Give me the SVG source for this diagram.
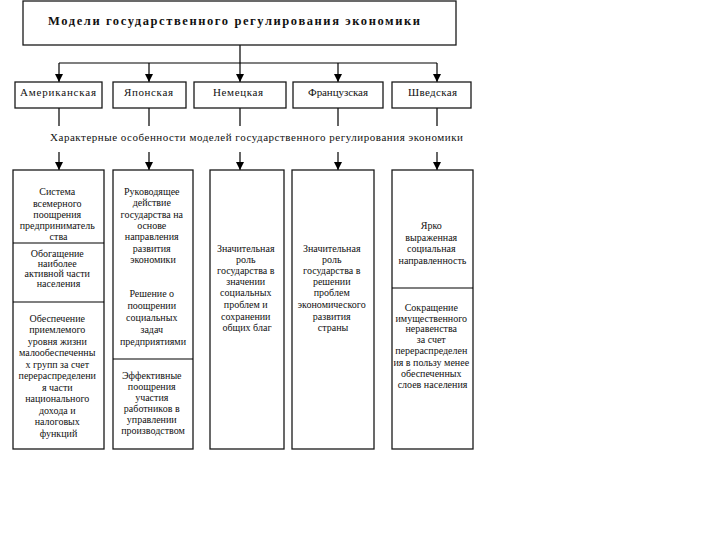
<svg xmlns="http://www.w3.org/2000/svg" width="720" height="540" viewBox="0 0 720 540">
<defs>
<marker id="arr" viewBox="0 0 8 10" refX="8" refY="5" markerWidth="8" markerHeight="10" markerUnits="userSpaceOnUse" orient="auto">
<path d="M0,1 L8,5 L0,9 z" fill="#000"/>
</marker>
<style>
.box{fill:#fff;stroke:#1a1a1a;stroke-width:1.3}
.ln{fill:none;stroke:#000;stroke-width:1.2}
.t{font-family:"Liberation Serif","Times New Roman",serif;font-size:10px;fill:#111;text-anchor:middle}
.c{font-family:"Liberation Serif","Times New Roman",serif;font-size:11px;fill:#111}
.h{font-family:"Liberation Serif","Times New Roman",serif;font-size:12.5px;font-weight:bold;fill:#111}
</style>
</defs>
<rect width="720" height="540" fill="#fff"/>
<g id="connectors">
<path class="ln" d="M240,45 V63 M59,63 H437"/>
<path class="ln" marker-end="url(#arr)" d="M59,63 V82"/>
<path class="ln" marker-end="url(#arr)" d="M149,63 V82"/>
<path class="ln" marker-end="url(#arr)" d="M240,63 V82"/>
<path class="ln" marker-end="url(#arr)" d="M338,63 V82"/>
<path class="ln" marker-end="url(#arr)" d="M437,63 V82"/>
<path class="ln" d="M59,108 V126 M149,108 V126 M240,108 V126 M338,108 V126 M437,108 V126"/>
<path class="ln" marker-end="url(#arr)" d="M59,152 V170"/>
<path class="ln" marker-end="url(#arr)" d="M149,152 V170"/>
<path class="ln" marker-end="url(#arr)" d="M240,152 V170"/>
<path class="ln" marker-end="url(#arr)" d="M338,152 V170"/>
<path class="ln" marker-end="url(#arr)" d="M437,152 V170"/>
</g>
<g id="title">
<rect class="box" x="23" y="1" width="433" height="44"/>
<text class="h" x="48" y="25" textLength="372" lengthAdjust="spacing">Модели государственного регулирования экономики</text>
</g>
<g id="american">
<rect class="box" x="15" y="82" width="87" height="26"/>
<text class="c" x="20" y="96" textLength="76" lengthAdjust="spacing">Американская</text>
</g>
<g id="japanese">
<rect class="box" x="113" y="82" width="73" height="26"/>
<text class="c" x="124" y="96" textLength="49" lengthAdjust="spacing">Японская</text>
</g>
<g id="german">
<rect class="box" x="194" y="82" width="92" height="26"/>
<text class="c" x="213" y="96" textLength="50" lengthAdjust="spacing">Немецкая</text>
</g>
<g id="french">
<rect class="box" x="293" y="82" width="90" height="26"/>
<text class="c" x="308" y="96" textLength="60" lengthAdjust="spacing">Французская</text>
</g>
<g id="swedish">
<rect class="box" x="392" y="82" width="79" height="26"/>
<text class="c" x="408" y="96" textLength="49" lengthAdjust="spacing">Шведская</text>
</g>
<g id="features">
<text class="c" x="50" y="141" textLength="413" lengthAdjust="spacing">Характерные особенности моделей государственного регулирования экономики</text>
</g>
<g id="box-american">
<rect class="box" x="13" y="170" width="91" height="279"/>
<path class="ln" d="M13,243 H104 M13,302 H104"/>
<text class="t">
<tspan x="58.5" y="195">Система</tspan>
<tspan x="58.5" y="207">всемерного</tspan>
<tspan x="58.5" y="218">поощрения</tspan>
<tspan x="58.5" y="229">предприниматель</tspan>
<tspan x="58.5" y="240">ства</tspan>
</text>
<text class="t">
<tspan x="58.5" y="257">Обогащение</tspan>
<tspan x="58.5" y="267">наиболее</tspan>
<tspan x="58.5" y="277">активной части</tspan>
<tspan x="58.5" y="287">населения</tspan>
</text>
<text class="t">
<tspan x="58.5" y="321.5">Обеспечение</tspan>
<tspan x="58.5" y="333">приемлемого</tspan>
<tspan x="58.5" y="344.5">уровня жизни</tspan>
<tspan x="58.5" y="356">малообеспеченны</tspan>
<tspan x="58.5" y="367.5">х групп за счет</tspan>
<tspan x="58.5" y="379">перераспределени</tspan>
<tspan x="58.5" y="390.5">я части</tspan>
<tspan x="58.5" y="402">национального</tspan>
<tspan x="58.5" y="413.5">дохода и</tspan>
<tspan x="58.5" y="425">налоговых</tspan>
<tspan x="58.5" y="436.5">функций</tspan>
</text>
</g>
<g id="box-japanese">
<rect class="box" x="113" y="170" width="80" height="279"/>
<path class="ln" d="M113,359 H193"/>
<text class="t">
<tspan x="153" y="194.5">Руководящее</tspan>
<tspan x="153" y="206">действие</tspan>
<tspan x="153" y="217.5">государства на</tspan>
<tspan x="153" y="229">основе</tspan>
<tspan x="153" y="240">направления</tspan>
<tspan x="153" y="251.5">развития</tspan>
<tspan x="153" y="263">экономики</tspan>
</text>
<text class="t">
<tspan x="153" y="297">Решение о</tspan>
<tspan x="153" y="308.5">поощрении</tspan>
<tspan x="153" y="320.5">социальных</tspan>
<tspan x="153" y="332.5">задач</tspan>
<tspan x="153" y="344.5">предприятиями</tspan>
</text>
<text class="t">
<tspan x="153" y="378.5">Эффективные</tspan>
<tspan x="153" y="389.5">поощрения</tspan>
<tspan x="153" y="400.5">участия</tspan>
<tspan x="153" y="411.5">работников в</tspan>
<tspan x="153" y="422.5">управлении</tspan>
<tspan x="153" y="434">производством</tspan>
</text>
</g>
<g id="box-german">
<rect class="box" x="210" y="170" width="74" height="279"/>
<text class="t">
<tspan x="247" y="251.5">Значительная</tspan>
<tspan x="247" y="262.5">роль</tspan>
<tspan x="247" y="273.5">государства в</tspan>
<tspan x="247" y="285">значении</tspan>
<tspan x="247" y="296">социальных</tspan>
<tspan x="247" y="308">проблем и</tspan>
<tspan x="247" y="319.5">сохранении</tspan>
<tspan x="247" y="331">общих благ</tspan>
</text>
</g>
<g id="box-french">
<rect class="box" x="292" y="170" width="82" height="279"/>
<text class="t">
<tspan x="333" y="251.5">Значительная</tspan>
<tspan x="333" y="262.5">роль</tspan>
<tspan x="333" y="273.5">государства в</tspan>
<tspan x="333" y="285">решении</tspan>
<tspan x="333" y="296">проблем</tspan>
<tspan x="333" y="308">экономического</tspan>
<tspan x="333" y="319.5">развития</tspan>
<tspan x="333" y="331">страны</tspan>
</text>
</g>
<g id="box-swedish">
<rect class="box" x="392" y="170" width="81" height="279"/>
<path class="ln" d="M392,288 H473"/>
<text class="t">
<tspan x="432.5" y="228.5">Ярко</tspan>
<tspan x="432.5" y="240.5">выраженная</tspan>
<tspan x="432.5" y="251.5">социальная</tspan>
<tspan x="432.5" y="263.5">направленность</tspan>
</text>
<text class="t">
<tspan x="432.5" y="310.5">Сокращение</tspan>
<tspan x="432.5" y="321.5">имущественного</tspan>
<tspan x="432.5" y="331.5">неравенства</tspan>
<tspan x="432.5" y="342.5">за счет</tspan>
<tspan x="432.5" y="353.5">перераспределен</tspan>
<tspan x="432.5" y="365.5">ия в пользу менее</tspan>
<tspan x="432.5" y="376.5">обеспеченных</tspan>
<tspan x="432.5" y="387.5">слоев населения</tspan>
</text>
</g>
</svg>
